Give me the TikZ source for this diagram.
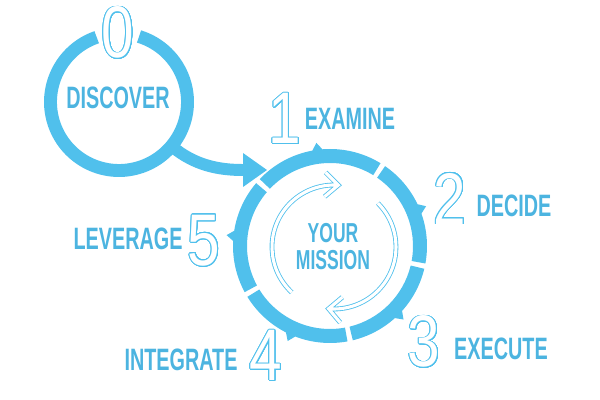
\documentclass[tikz,border=0pt]{standalone}
\usepackage{fontspec}
\usepackage{contour}
\newfontfamily\labelfont{Liberation Sans}[FakeStretch=0.64]
\newfontfamily\digitfont{Liberation Sans}[FakeStretch=0.8]
\definecolor{ringblue}{RGB}{80,192,236}
\definecolor{textblue}{RGB}{76,180,224}
\contournumber{32}
\contourlength{0.55pt}
\tikzset{
  labeltext/.style={text=textblue, font=\labelfont\bfseries\fontsize{22}{24}\selectfont, inner sep=0pt},
  digit/.style={text=white, font=\digitfont\fontsize{52}{52}\selectfont, inner sep=0pt},
  hollow/.style={draw=ringblue, double=white, double distance=2.2pt, line width=0.6pt, line join=miter},
}
\begin{document}
\begin{tikzpicture}[x=0.025cm, y=0.025cm]
    \useasboundingbox (0,0) rectangle (600,400);
    \coordinate (dc) at (119,298);
    \coordinate (mc) at (330,154);
    \coordinate (ac) at (334,153);
    % discover ring with its tail
    \begin{scope}[shift={(dc)}]
       \draw[ringblue, line width=9.2pt] (109:68.5) arc[start angle=109, end angle=433, radius=68.5];
       \coordinate (tailstart) at (-40:68.5);
       \coordinate (tailend) at (124,-68);
       \coordinate (tailtip) at (148,-68);
       \draw[ringblue, line width=8.5pt] (tailstart) .. controls (76,-64) and (101,-68) .. (tailend);
       \fill[ringblue] (124,-51) -- (tailtip) -- (124,-85) -- cycle;
    \end{scope}
    % mission ring in five pieces
    \begin{scope}[shift={(mc)}]
       \foreach \a/\b in {138/57, 57/-12, -12/-78, -78/-150, -150/-222}{
          \pgfmathsetmacro\m{(\a+\b)/2}
          \fill[ringblue] (\a-1.6:97) arc[start angle=\a-1.6, end angle=\m+3, radius=97]
             -- (\m:104) -- (\m-3:97) arc[start angle=\m-3, end angle=\b+1.6, radius=97]
             -- (\b+1.6:83) arc[start angle=\b+1.6, end angle=\a-1.6, radius=83] -- cycle;
       }
    \end{scope}
    % hollow arrows inside
    \begin{scope}[shift={(ac)}]
       \draw[hollow] (227:62) arc[start angle=227, end angle=86, radius=62]
          (86:62) ++(135:18) -- (86:62) -- ++(220:18);
       \draw[hollow] (45:62) arc[start angle=45, end angle=-95, radius=62]
          (-95:62) ++(40:18) -- (-95:62) -- ++(-50:18);
    \end{scope}
    \node[labeltext, font=\labelfont\bfseries\fontsize{19.5}{19.1}\selectfont, align=center] (mission) at (333,153.5) {YOUR\\MISSION};
    % steps
    \node[digit] (n0) at (118,367) {\contour{ringblue}{0}};
    \node[labeltext] (discover) at (118,302) {DISCOVER};
    \node[digit] (n1) at (285,281) {\contour{ringblue}{1}};
    \node[labeltext] (examine) at (350,281) {EXAMINE};
    \node[digit] (n2) at (450,201) {\contour{ringblue}{2}};
    \node[labeltext] (decide) at (514,194) {DECIDE};
    \node[digit] (n3) at (424,58) {\contour{ringblue}{3}};
    \node[labeltext] (execute) at (501,51) {EXECUTE};
    \node[digit] (n4) at (266,44) {\contour{ringblue}{4}};
    \node[labeltext] (integrate) at (181,40) {INTEGRATE};
    \node[digit] (n5) at (204,159) {\contour{ringblue}{5}};
    \node[labeltext] (leverage) at (128,161) {LEVERAGE};
\end{tikzpicture}
\end{document}
